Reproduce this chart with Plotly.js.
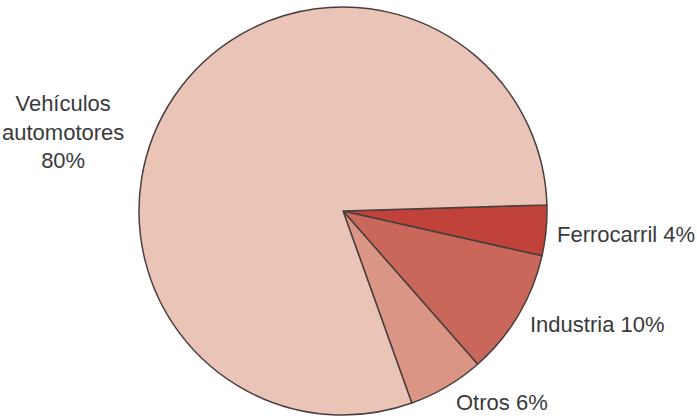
<!DOCTYPE html>
<html>
<head>
<meta charset="utf-8">
<script src="https://cdn.plot.ly/plotly-3.0.1.min.js"></script>
<style>html,body{margin:0;padding:0;background:#fff;}#chart{width:697px;height:416px;}</style>
</head>
<body>
<div id="chart"></div>
<script>
const categories = ["Ferrocarril", "Industria", "Otros", "Vehículos automotores"];
const values = [4, 10, 6, 80];
const labelTexts = ["Ferrocarril 4%", "Industria 10%", "Otros 6%", "Vehículos<br>automotores<br>80%"];
const colors = ["#c1423b", "#c9685a", "#da9584", "#ebc4b8"];

const W = 697, H = 416;
const cx = 343, cy = 211, r = 204;

const trace = {
  type: "pie",
  labels: categories,
  values: values,
  sort: false,
  direction: "clockwise",
  rotation: 88.3,
  textinfo: "none",
  hoverinfo: "none",
  showlegend: false,
  marker: {colors: colors, line: {color: "#4a3f3e", width: 1.5}},
  domain: {x: [(cx - r) / W, (cx + r) / W], y: [1 - (cy + r) / H, 1 - (cy - r) / H]}
};

const labelPos = [[555, 234, "left"], [528, 324, "left"], [454, 402, "left"], [63, 132, "center"]];
const annotations = labelTexts.map((t, i) => ({
  text: t,
  x: labelPos[i][0] / W,
  y: 1 - labelPos[i][1] / H,
  xref: "paper", yref: "paper",
  xanchor: labelPos[i][2], yanchor: "middle",
  align: "center",
  showarrow: false,
  font: {family: "Liberation Sans, Arial, sans-serif", size: 22, color: "#3a3a3a"}
}));

const layout = {
  width: W, height: H,
  margin: {l: 0, r: 0, t: 0, b: 0},
  paper_bgcolor: "#ffffff",
  annotations: annotations
};

Plotly.newPlot("chart", [trace], layout, {staticPlot: true, displayModeBar: false});
</script>
</body>
</html>
